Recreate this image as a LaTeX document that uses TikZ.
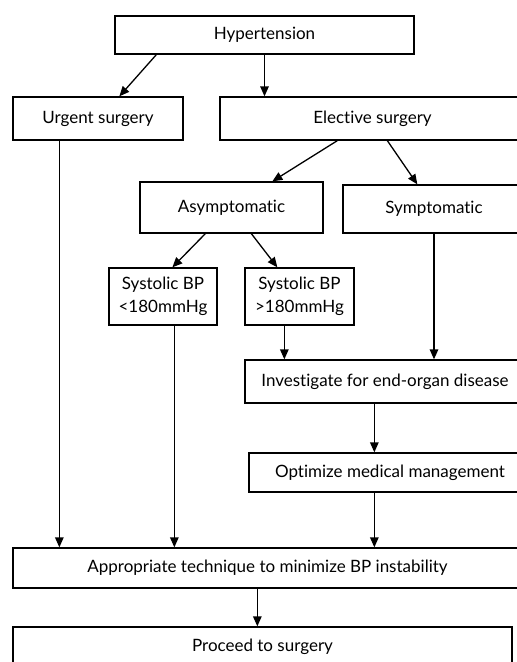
\documentclass[tikz,border=0pt]{standalone}
\usepackage{fontspec}
\setmainfont[Ligatures=NoCommon]{Lato}
\usetikzlibrary{calc,arrows.meta}
\begin{document}
\begin{tikzpicture}[x=1pt,y=-1pt,
  box/.style={draw,line width=1.3pt,inner sep=0pt,align=center,
    font=\fontsize{17}{23}\selectfont},
  arr/.style={line width=1.3pt,-{Triangle[length=10pt,width=8.5pt]}}]
\useasboundingbox (0,0) rectangle (517,662);
\clip (0,0) rectangle (517,662);
\node[box,minimum width=299pt,minimum height=38pt] (hyp) at (264.5,35) {Hypertension};
\node[box,minimum width=170pt,minimum height=43pt] (urg) at (98,118.5) {Urgent surgery};
\node[box,minimum width=305pt,minimum height=43pt] (ele) at (372.5,118.5) {Elective surgery};
\node[box,minimum width=183pt,minimum height=51pt] (asym) at (231.5,207.5) {Asymptomatic};
\node[box,minimum width=182pt,minimum height=48pt] (symp) at (434,209) {Symptomatic};
\node[box,minimum width=108pt,minimum height=57pt] (sbpa) at (163,296.5) {Systolic BP\\<180mmHg};
\node[box,minimum width=109pt,minimum height=57pt] (sbpb) at (299.5,296.5) {Systolic BP\\>180mmHg};
\node[box,minimum width=280pt,minimum height=43pt] (inv) at (385,381.5) {Investigate for end-organ disease};
\node[box,minimum width=282pt,minimum height=39pt] (opt) at (390,472.5) {Optimize medical management};
\node[box,minimum width=509pt,minimum height=40pt] (app) at (267.5,568) {Appropriate technique to minimize BP instability};
\node[box,minimum width=499pt,minimum height=40pt] (proc) at (262.5,647) {Proceed to surgery};
% branches
\draw[arr] ($(hyp.south west)+(42,0)$) -- ($(urg.north west)+(107,0)$);
\draw[arr] (hyp.south) -- (hyp.south |- ele.north);
\draw[arr] ($(ele.south west)+(118,0)$) -- ($(asym.north west)+(133,0)$);
\draw[arr] ($(ele.south west)+(168,0)$) -- ($(symp.north west)+(75,0)$);
\draw[arr] ($(asym.south west)+(66,0)$) -- ($(sbpa.north west)+(64,0)$);
\draw[arr] ($(asym.south west)+(112,0)$) -- ($(sbpb.north west)+(33,0)$);
% vertical flows
\coordinate (sb) at ($(sbpb.south west)+(40,0)$);
\draw[arr] (sb) -- (sb |- inv.north);
\draw[arr] (symp.south) -- (symp.south |- inv.north);
\coordinate (iv) at ($(inv.south west)+(130,0)$);
\draw[arr] (iv) -- (iv |- opt.north);
\coordinate (ug) at ($(urg.south west)+(47,0)$);
\draw[arr] (ug) -- (ug |- app.north);
\coordinate (sa) at ($(sbpa.south west)+(66,0)$);
\draw[arr] (sa) -- (sa |- app.north);
\coordinate (op) at ($(opt.south west)+(126,0)$);
\draw[arr] (op) -- (op |- app.north);
\coordinate (ap) at ($(app.south west)+(245,0)$);
\draw[arr] (ap) -- (ap |- proc.north);
\end{tikzpicture}
\end{document}
